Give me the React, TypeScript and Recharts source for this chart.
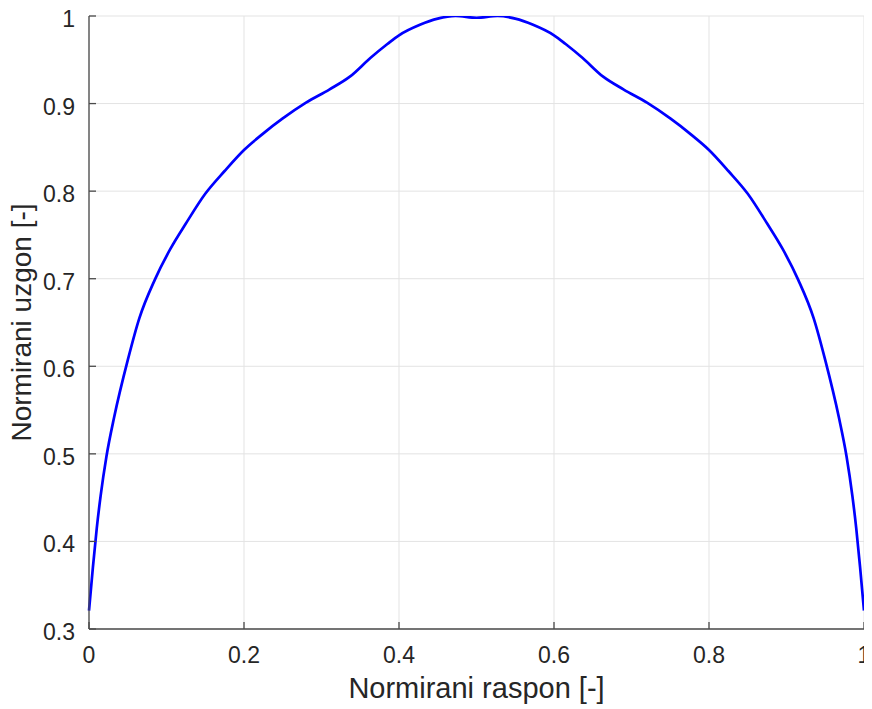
import React from "react";
import { LineChart, Line, XAxis, YAxis, CartesianGrid } from "recharts";

const spanValues = [
  0, 0.005, 0.01, 0.015, 0.0225, 0.0325, 0.05, 0.065, 0.085, 0.105, 0.125, 0.15, 0.175,
  0.2, 0.225, 0.25, 0.28, 0.31, 0.337, 0.363, 0.385, 0.4, 0.427, 0.45, 0.473,
  0.5,
  0.527, 0.55, 0.573, 0.6, 0.615, 0.637, 0.663, 0.69, 0.72, 0.75, 0.775, 0.8,
  0.825, 0.85, 0.875, 0.895, 0.915, 0.935, 0.95, 0.9675, 0.9775, 0.985, 0.99, 0.995, 1,
];

const liftValues = [
  0.321, 0.37, 0.415, 0.452, 0.497, 0.542, 0.607, 0.655, 0.699, 0.734, 0.763, 0.797, 0.823,
  0.847, 0.866, 0.883, 0.901, 0.916, 0.931, 0.952, 0.968, 0.978, 0.99, 0.997, 1.0,
  0.998,
  1.0, 0.997, 0.99, 0.978, 0.968, 0.952, 0.931, 0.916, 0.901, 0.883, 0.866, 0.847,
  0.823, 0.797, 0.763, 0.734, 0.699, 0.655, 0.607, 0.542, 0.497, 0.452, 0.415, 0.37, 0.321,
];

const xTicks = [0, 0.2, 0.4, 0.6, 0.8, 1];
const yTicks = [0.3, 0.4, 0.5, 0.6, 0.7, 0.8, 0.9, 1];
const xLabel = "Normirani raspon [-]";
const yLabel = "Normirani uzgon [-]";

const data = spanValues.map((s, i) => ({ span: s, lift: liftValues[i] }));

const FONT = "'Liberation Sans', Arial, Helvetica, sans-serif";
const AXIS = "#4a4a4a";
const TEXT = "#262626";
const TICK_LEN = 7;
const X_MARGIN = 18;
const Y_MARGIN = 14;

const fmt = (v: number) => String(Math.round(v * 10) / 10);

const BottomTick = (props: any) => {
  const { x, y, payload } = props;
  const ay = y - X_MARGIN;
  return (
    <g>
      <line x1={x} x2={x} y1={ay} y2={ay - TICK_LEN} stroke={AXIS} strokeWidth={1.3} />
      <text x={x} y={y} dy="0.71em" textAnchor="middle" fill={TEXT} fontSize={23} fontFamily={FONT}>
        {fmt(payload.value)}
      </text>
    </g>
  );
};

const LeftTick = (props: any) => {
  const { x, y, payload } = props;
  const ax = x + Y_MARGIN;
  return (
    <g>
      <line x1={ax} x2={ax + TICK_LEN} y1={y} y2={y} stroke={AXIS} strokeWidth={1.3} />
      <text x={x} y={y} dy="0.48em" textAnchor="end" fill={TEXT} fontSize={23} fontFamily={FONT}>
        {fmt(payload.value)}
      </text>
    </g>
  );
};

const TopTick = (props: any) => {
  const { x, y } = props;
  return <line x1={x} x2={x} y1={y} y2={y + TICK_LEN} stroke={AXIS} strokeWidth={1.3} />;
};

const RightTick = (props: any) => {
  const { x, y } = props;
  return <line x1={x} x2={x - TICK_LEN} y1={y} y2={y} stroke={AXIS} strokeWidth={1.3} />;
};

export default function App() {
  return (
    <div style={{ width: 872, height: 709, background: "#fff", margin: "-8px 0 0 -8px" }}>
      <LineChart
        width={872}
        height={709}
        data={data}
        margin={{ top: 16, right: 8, bottom: 8, left: 19 }}
      >
        <CartesianGrid stroke="#e3e3e3" strokeWidth={1} />
        <XAxis
          dataKey="span"
          type="number"
          domain={[0, 1]}
          ticks={xTicks}
          interval={0}
          height={72}
          tickSize={0}
          tickMargin={X_MARGIN}
          tick={<BottomTick />}
          axisLine={{ stroke: AXIS, strokeWidth: 1.3 }}
          label={{
            value: xLabel,
            position: "insideBottom",
            offset: 3,
            fill: TEXT,
            fontSize: 29,
            fontFamily: FONT,
          }}
        />
        <XAxis
          xAxisId="top"
          orientation="top"
          type="number"
          domain={[0, 1]}
          ticks={xTicks}
          interval={0}
          height={0}
          tickSize={0}
          tickMargin={0}
          tick={<TopTick />}
          axisLine={{ stroke: AXIS, strokeWidth: 1.3 }}
        />
        <YAxis
          type="number"
          domain={[0.3, 1]}
          ticks={yTicks}
          interval={0}
          width={70}
          tickSize={0}
          tickMargin={Y_MARGIN}
          tick={<LeftTick />}
          allowDataOverflow
          axisLine={{ stroke: AXIS, strokeWidth: 1.3 }}
          label={{
            value: yLabel,
            angle: -90,
            position: "insideLeft",
            offset: 2,
            fill: TEXT,
            fontSize: 28,
            fontFamily: FONT,
            style: { textAnchor: "middle" },
          }}
        />
        <YAxis
          yAxisId="right"
          orientation="right"
          type="number"
          domain={[0.3, 1]}
          ticks={yTicks}
          interval={0}
          width={0}
          tickSize={0}
          tickMargin={0}
          tick={<RightTick />}
          axisLine={{ stroke: AXIS, strokeWidth: 1.3 }}
        />
        <Line
          dataKey="lift"
          type="monotone"
          stroke="#0000ff"
          strokeWidth={2.7}
          dot={false}
          isAnimationActive={false}
        />
      </LineChart>
    </div>
  );
}
